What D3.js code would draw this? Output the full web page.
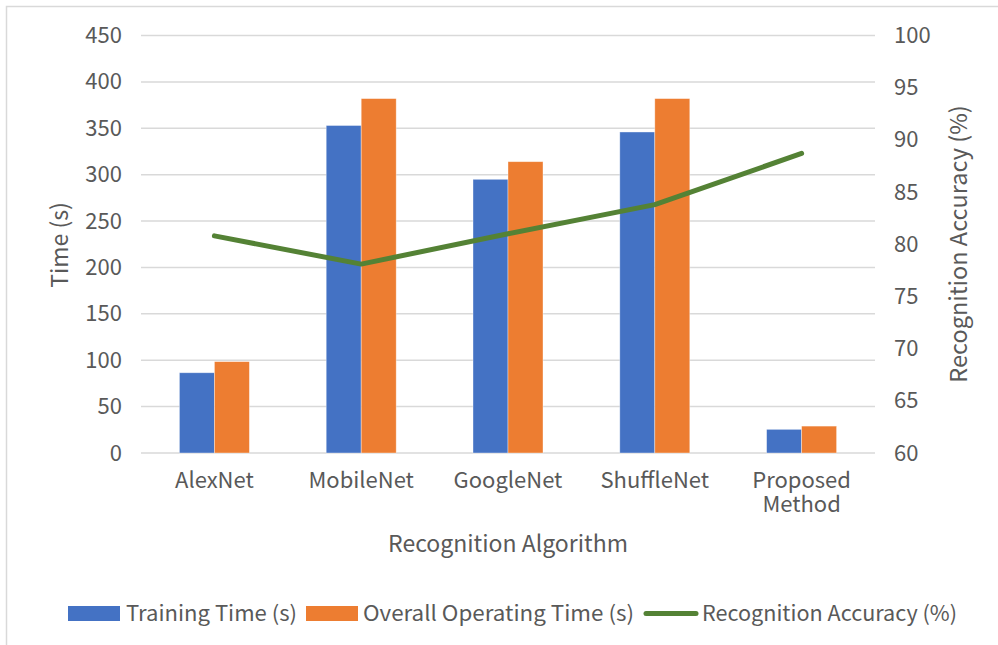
<!DOCTYPE html>
<html>
<head>
<meta charset="utf-8">
<script src="https://cdn.jsdelivr.net/npm/d3@7"></script>
<style>
  body { margin: 0; background: #fff; }
  svg text { font-family: "Noto Sans CJK SC", "Noto Sans", sans-serif; fill: #595959; }
</style>
</head>
<body>
<svg id="chart" width="998" height="645"></svg>
<script>
// data
const algorithms = ["AlexNet", "MobileNet", "GoogleNet", "ShuffleNet", "Proposed Method"]
const trainingTime = [86.5, 353, 295, 346, 25.5]
const operatingTime = [98.5, 382, 314, 382, 29]
const accuracy = [80.8, 78.1, 81.0, 83.8, 88.7]
const timeTicks = [0, 50, 100, 150, 200, 250, 300, 350, 400, 450]
const accTicks = [60, 65, 70, 75, 80, 85, 90, 95, 100]
const seriesNames = ["Training Time (s)", "Overall Operating Time (s)", "Recognition Accuracy (%)"]

const svg = d3.select("#chart")
const plot = {left: 141, right: 875, top: 35.5, bottom: 453}

// chart border
svg.append("rect")
    .attr("x", 6.5).attr("y", 6.5)
    .attr("width", 1100).attr("height", 800)
    .attr("fill", "none")
    .attr("stroke", "#d9d9d9")
    .attr("stroke-width", 1.5)

// scales
let x = d3.scaleBand()
    .domain(algorithms)
    .range([plot.left, plot.right])
let bw = x.bandwidth()
let x1 = d3.scaleBand()
    .domain([0, 1])
    .range([bw / 2 - 35, bw / 2 + 35])
let yLeft = d3.scaleLinear().domain([0, 450]).range([plot.bottom, plot.top])
let yRight = d3.scaleLinear().domain([60, 100]).range([plot.bottom, plot.top])

// gridlines
svg.append("g")
    .selectAll("line")
    .data(timeTicks).enter().append("line")
    .attr("x1", plot.left).attr("x2", plot.right)
    .attr("y1", d => yLeft(d)).attr("y2", d => yLeft(d))
    .attr("stroke", "#d9d9d9")
    .attr("stroke-width", 1.5)

// left axis
let leftAxis = svg.append("g")
    .attr("transform", `translate(${plot.left}, 0)`)
    .call(d3.axisLeft(yLeft).tickValues(timeTicks).tickSize(0).tickPadding(19))
leftAxis.select(".domain").remove()
leftAxis.selectAll("text").style("font-size", "22px").attr("fill", "#595959")

// right axis
let rightAxis = svg.append("g")
    .attr("transform", `translate(${plot.right}, 0)`)
    .call(d3.axisRight(yRight).tickValues(accTicks).tickSize(0).tickPadding(19))
rightAxis.select(".domain").remove()
rightAxis.selectAll("text").style("font-size", "22px").attr("fill", "#595959")

// bars
let barData = []
algorithms.forEach((a, i) => {
    barData.push({cat: a, s: 0, value: trainingTime[i]})
    barData.push({cat: a, s: 1, value: operatingTime[i]})
})
const colors = ["#4472C4", "#ED7D31"]
svg.append("g")
    .selectAll("rect")
    .data(barData).enter().append("rect")
    .attr("x", d => x(d.cat) + x1(d.s))
    .attr("y", d => yLeft(d.value))
    .attr("width", x1.bandwidth())
    .attr("height", d => yLeft(0) - yLeft(d.value))
    .attr("fill", d => colors[d.s])
    .attr("stroke", "#fff")
    .attr("stroke-opacity", 0.5)
    .attr("stroke-width", 0.75)

// accuracy line
let line = d3.line()
    .x((d, i) => x(algorithms[i]) + bw / 2)
    .y(d => yRight(d))
svg.append("path")
    .datum(accuracy)
    .attr("d", line)
    .attr("fill", "none")
    .attr("stroke", "#548235")
    .attr("stroke-width", 5)
    .attr("stroke-linejoin", "round")
    .attr("stroke-linecap", "round")

// category labels (long one wrapped on two lines)
let catG = svg.append("g")
algorithms.forEach(a => {
    let words = a === "Proposed Method" ? ["Proposed", "Method"] : [a]
    words.forEach((w, k) => {
        catG.append("text")
            .attr("x", x(a) + bw / 2)
            .attr("y", 488 + k * 24)
            .attr("text-anchor", "middle")
            .style("font-size", "22px")
            .text(w)
    })
})

// axis titles
svg.append("text")
    .attr("x", (plot.left + plot.right) / 2)
    .attr("y", 552)
    .attr("text-anchor", "middle")
    .style("font-size", "23px")
    .text("Recognition Algorithm")
svg.append("text")
    .attr("transform", `translate(68, 245) rotate(-90)`)
    .attr("text-anchor", "middle")
    .style("font-size", "23px")
    .text("Time (s)")
svg.append("text")
    .attr("transform", `translate(967, 244) rotate(-90)`)
    .attr("text-anchor", "middle")
    .style("font-size", "23.5px")
    .text("Recognition Accuracy (%)")

// legend
let legend = svg.append("g")
const legendItems = [
    {x: 68, tx: 126, w: 171, kind: "bar", color: colors[0]},
    {x: 306, tx: 363, w: 271, kind: "bar", color: colors[1]},
    {x: 644, tx: 702, w: 255, kind: "line", color: "#548235"}
]
legendItems.forEach((it, i) => {
    if (it.kind === "bar") {
        legend.append("rect")
            .attr("x", it.x).attr("y", 606)
            .attr("width", 52).attr("height", 15)
            .attr("fill", it.color)
    } else {
        legend.append("line")
            .attr("x1", it.x + 2).attr("x2", it.x + 52)
            .attr("y1", 613.5).attr("y2", 613.5)
            .attr("stroke", it.color)
            .attr("stroke-width", 5)
            .attr("stroke-linecap", "round")
    }
    legend.append("text")
        .attr("x", it.tx)
        .attr("y", 621)
        .attr("textLength", it.w)
        .attr("lengthAdjust", "spacingAndGlyphs")
        .style("font-size", "21px")
        .text(seriesNames[i])
})
</script>
</body>
</html>
